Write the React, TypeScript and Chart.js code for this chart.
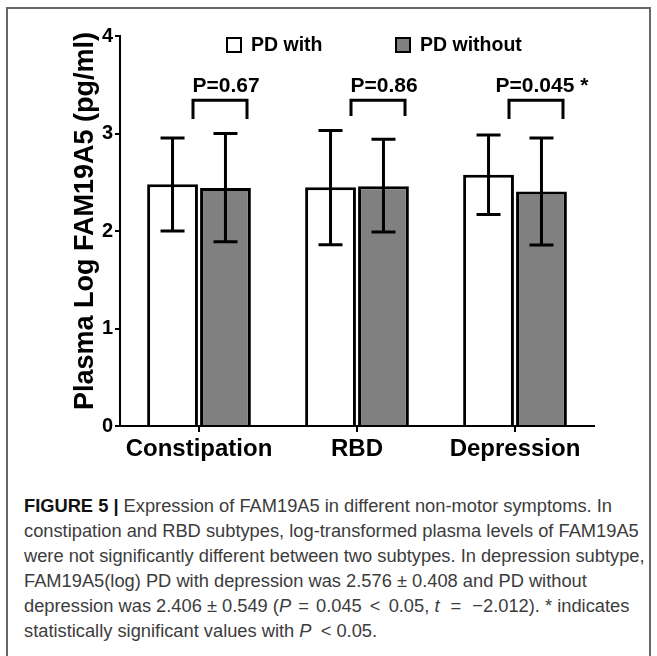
import React, { useEffect, useRef } from "react";
import { Chart, registerables } from "chart.js";
Chart.register(...registerables);

const categories = ["Constipation", "RBD", "Depression"];
const seriesLabels = ["PD with", "PD without"];
const pdWithMean = [2.48, 2.45, 2.576];
const pdWithUpper = [2.955, 3.03, 2.984];
const pdWithLower = [2.0, 1.86, 2.168];
const pdWithoutMean = [2.44, 2.46, 2.406];
const pdWithoutUpper = [3.0, 2.94, 2.955];
const pdWithoutLower = [1.89, 1.99, 1.857];
const pValueLabels = ["P=0.67", "P=0.86", "P=0.045 *"];
const bracketTop = [3.34, 3.34, 3.34];
const bracketBottom = [3.15, 3.18, 3.15];
const pLabelLevel = 3.43;
const yTickValues = [0, 1, 2, 3, 4];
const yTitle = "Plasma Log FAM19A5 (pg/ml)";

const FONT = "'Liberation Sans', Arial, Helvetica, sans-serif";
const seriesFill = ["#ffffff", "#808080"];

const overlayPlugin = {
  id: "overlay",
  afterDatasetsDraw(chart: any) {
    const ctx = chart.ctx as CanvasRenderingContext2D;
    const xs = chart.scales.x;
    const ys = chart.scales.y;
    const bounds = [
      [pdWithUpper, pdWithLower],
      [pdWithoutUpper, pdWithoutLower],
    ];
    ctx.save();
    ctx.strokeStyle = "#000";
    ctx.lineWidth = 3;
    ctx.lineCap = "butt";
    ctx.lineJoin = "miter";
    bounds.forEach(([up, lo], di) => {
      const meta = chart.getDatasetMeta(di);
      meta.data.forEach((el: any, i: number) => {
        const cx = el.x;
        const yt = ys.getPixelForValue(up[i]);
        const yb = ys.getPixelForValue(lo[i]);
        ctx.beginPath();
        ctx.moveTo(cx, yt);
        ctx.lineTo(cx, yb);
        ctx.moveTo(cx - 12, yt);
        ctx.lineTo(cx + 12, yt);
        ctx.moveTo(cx - 12, yb);
        ctx.lineTo(cx + 12, yb);
        ctx.stroke();
      });
    });
    // significance brackets and labels
    categories.forEach((_, i) => {
      const c = xs.getPixelForValue(i);
      const l = c - 6;
      const r = c + 48;
      const t = ys.getPixelForValue(bracketTop[i]);
      const b = ys.getPixelForValue(bracketBottom[i]);
      ctx.beginPath();
      ctx.moveTo(l, b);
      ctx.lineTo(l, t);
      ctx.lineTo(r, t);
      ctx.lineTo(r, b);
      ctx.stroke();
      ctx.font = `bold 21px ${FONT}`;
      ctx.fillStyle = "#000";
      ctx.textAlign = "center";
      ctx.textBaseline = "alphabetic";
      ctx.fillText(pValueLabels[i], c + 27, ys.getPixelForValue(pLabelLevel));
    });
    // legend
    const legendX = [226, 395];
    const legendY = 45;
    ctx.font = `bold 19.5px ${FONT}`;
    ctx.textAlign = "left";
    ctx.textBaseline = "middle";
    seriesLabels.forEach((lab, i) => {
      ctx.fillStyle = seriesFill[i];
      ctx.fillRect(legendX[i], legendY - 8, 16, 16);
      ctx.lineWidth = 2;
      ctx.strokeStyle = "#000";
      ctx.strokeRect(legendX[i] + 1, legendY - 7, 14, 14);
      ctx.fillStyle = "#000";
      ctx.fillText(lab, legendX[i] + 25, legendY + 1);
    });
    // y title
    ctx.save();
    ctx.translate(86, 221);
    ctx.rotate(-Math.PI / 2);
    ctx.font = `bold 27px ${FONT}`;
    ctx.textAlign = "center";
    ctx.textBaseline = "middle";
    ctx.fillStyle = "#000";
    ctx.fillText(yTitle, 0, 0);
    ctx.restore();
    ctx.restore();
  },
};

function ChartBox() {
  const ref = useRef<HTMLCanvasElement | null>(null);
  useEffect(() => {
    if (!ref.current) return;
    const chart = new Chart(ref.current, {
      type: "bar",
      data: {
        labels: categories,
        datasets: [
          {
            label: seriesLabels[0],
            data: pdWithMean,
            backgroundColor: seriesFill[0],
            borderColor: "#000",
            borderWidth: 3,
            borderSkipped: "start",
            categoryPercentage: 0.67,
            barPercentage: 0.96,
          },
          {
            label: seriesLabels[1],
            data: pdWithoutMean,
            backgroundColor: seriesFill[1],
            borderColor: "#000",
            borderWidth: 3,
            borderSkipped: "start",
            categoryPercentage: 0.67,
            barPercentage: 0.96,
          },
        ],
      },
      options: {
        animation: false,
        responsive: false,
        devicePixelRatio: 1,
        layout: { padding: { left: 0, top: 36, right: 63, bottom: 0 } },
        plugins: {
          legend: { display: false },
          tooltip: { enabled: false },
          title: { display: false },
        },
        scales: {
          x: {
            afterFit: (s: any) => {
              s.height = 44;
            },
            border: { display: true, color: "#000", width: 2 },
            grid: {
              display: true,
              drawOnChartArea: false,
              drawTicks: true,
              tickLength: 6,
              color: "#000",
              lineWidth: 2,
              offset: false,
            },
            ticks: {
              color: "#000",
              padding: 3,
              font: { family: FONT, size: 24, weight: "bold" },
            },
          },
          y: {
            min: 0,
            max: 4,
            afterFit: (s: any) => {
              s.width = 120;
            },
            afterBuildTicks: (s: any) => {
              s.ticks = yTickValues.map((v) => ({ value: v }));
            },
            border: { display: true, color: "#000", width: 2 },
            grid: {
              display: true,
              drawOnChartArea: false,
              drawTicks: true,
              tickLength: 5,
              color: "#000",
              lineWidth: 2,
            },
            ticks: {
              color: "#000",
              padding: 2,
              font: { family: FONT, size: 20, weight: "bold" },
            },
          },
        },
      },
      plugins: [overlayPlugin],
    } as any);
    return () => chart.destroy();
  }, []);
  return <canvas ref={ref} width={657} height={470} style={{ position: "absolute", left: 0, top: 0 }} />;
}

const captionStyle: React.CSSProperties = {
  position: "absolute",
  left: 24,
  top: 493,
  fontFamily: FONT,
  fontSize: 18.3,
  lineHeight: "25px",
  color: "#3c3c3c",
  whiteSpace: "nowrap",
};

const rel = (m: number): React.CSSProperties => ({ margin: `0 ${m}px` });

export default function App() {
  return (
    <div style={{ position: "absolute", left: 0, top: 0, width: 657, height: 656, background: "#fff", overflow: "hidden" }}>
      <div
        style={{
          position: "absolute",
          left: 6,
          top: 7,
          width: 645,
          height: 660,
          border: "2px solid #666",
          boxSizing: "border-box",
        }}
      />
      <ChartBox />
      <div style={captionStyle}>
        <div>
          <b style={{ color: "#111" }}>FIGURE 5 |</b> Expression of FAM19A5 in different non-motor symptoms. In
        </div>
        <div>constipation and RBD subtypes, log-transformed plasma levels of FAM19A5</div>
        <div>were not significantly different between two subtypes. In depression subtype,</div>
        <div>FAM19A5(log) PD with depression was 2.576 ± 0.408 and PD without</div>
        <div>
          depression was 2.406 ± 0.549 (<i>P</i> <span style={rel(2)}>=</span> 0.045 <span style={rel(3)}>&lt;</span> 0.05, <i>t</i>{" "}
          <span style={rel(6)}>=</span> −2.012). * indicates
        </div>
        <div>
          statistically significant values with <i>P</i> <span style={{ marginLeft: 4 }}>&lt;</span> 0.05.
        </div>
      </div>
    </div>
  );
}
